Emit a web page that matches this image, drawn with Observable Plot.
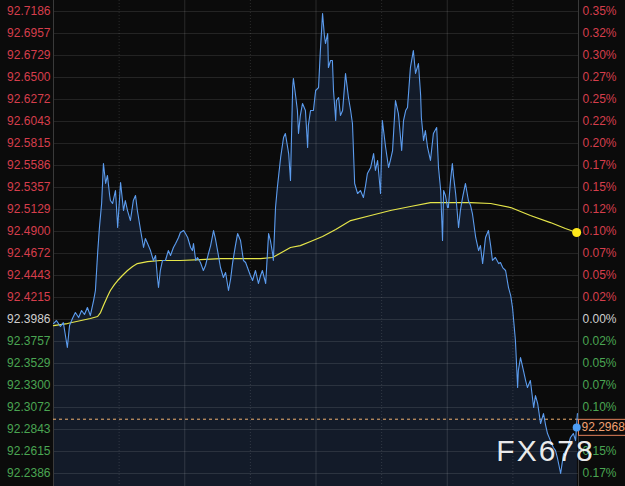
<!DOCTYPE html>
<html><head><meta charset="utf-8">
<script src="https://cdn.jsdelivr.net/npm/d3@7"></script>
<script src="https://cdn.jsdelivr.net/npm/@observablehq/plot@0.6"></script>
<style>html,body{margin:0;padding:0;background:#0b0b0b;overflow:hidden}</style>
</head><body><div id="chart"></div>
<script>
// intraday minutes (0 = session open) and price of the index
const times = [
  0,8,19,27,38,44,52,60,69,77,
  85,93,101,110,115,121,126,132,137,143,
  148,154,156,162,170,176,184,192,197,203,
  211,219,225,230,239,247,252,258,266,274,
  280,285,288,293,299,307,315,321,329,335,
  343,348,357,362,368,376,381,384,390,395,
  403,411,417,425,431,439,444,450,458,466,
  472,480,486,491,499,505,513,521,527,532,
  540,546,554,562,568,573,582,590,595,601,
  603,609,614,623,631,636,645,650,656,658,
  664,669,672,677,683,691,697,699,705,713,
  719,727,732,738,743,746,752,754,760,765,
  768,774,776,782,787,793,801,809,815,820,
  826,834,842,850,856,861,870,878,883,889,
  897,902,911,919,924,930,938,946,955,960,
  966,971,979,987,993,1001,1007,1009,1015,1020,
  1026,1034,1042,1051,1056,1062,1067,1070,1075,1081,
  1083,1089,1094,1097,1103,1111,1116,1122,1130,1138,
  1144,1149,1158,1166,1171,1177,1185,1193,1199,1204,
  1212,1221,1226,1232,1240,1248,1254,1259,1267,1273,
  1275,1281,1289,1295,1300,1308,1317,1322,1328,1336,
  1344,1350,1355,1363,1371,1377,1382,1391,1399,1404,
  1410,1418,1426,1432,1437
];
const prices = [
  92.3944,92.3975,92.3913,92.3954,92.3695,92.3923,92.3996,92.4058,92.4006,92.4079,
  92.4038,92.4110,92.4027,92.4183,92.4287,92.4671,92.4941,92.5191,92.5606,92.5399,
  92.5482,92.5274,92.5222,92.5191,92.5326,92.4941,92.5409,92.5118,92.5222,92.5118,
  92.5014,92.5222,92.5274,92.5118,92.4910,92.4734,92.4827,92.4775,92.4702,92.4599,
  92.4651,92.4422,92.4318,92.4495,92.4599,92.4599,92.4702,92.4651,92.4734,92.4775,
  92.4838,92.4890,92.4910,92.4879,92.4838,92.4734,92.4702,92.4775,92.4599,92.4630,
  92.4578,92.4495,92.4547,92.4671,92.4754,92.4910,92.4827,92.4702,92.4526,92.4422,
  92.4474,92.4287,92.4412,92.4567,92.4754,92.4879,92.4806,92.4599,92.4578,92.4526,
  92.4443,92.4391,92.4495,92.4360,92.4443,92.4495,92.4360,92.4879,92.4806,92.4671,
  92.4599,92.5149,92.5357,92.5669,92.5877,92.5918,92.5710,92.5430,92.6396,92.6490,
  92.6313,92.6157,92.5918,92.6105,92.6230,92.6157,92.5773,92.6001,92.6157,92.6157,
  92.6365,92.6396,92.6780,92.7165,92.6936,92.6853,92.6957,92.6604,92.6677,92.6677,
  92.6365,92.6053,92.6261,92.6292,92.6105,92.6157,92.6542,92.6292,92.6157,92.6022,
  92.5399,92.5295,92.5326,92.5253,92.5378,92.5503,92.5565,92.5710,92.5534,92.5638,
  92.5295,92.6053,92.5773,92.5565,92.5638,92.5741,92.6261,92.6126,92.5741,92.6053,
  92.6157,92.6188,92.6604,92.6780,92.6542,92.6645,92.6313,92.6084,92.5845,92.5949,
  92.5773,92.5638,92.5918,92.5980,92.5565,92.5326,92.4806,92.5326,92.5274,92.5149,
  92.5149,92.5430,92.5606,92.5482,92.5295,92.4941,92.5118,92.5253,92.5399,92.5222,
  92.5170,92.5087,92.4838,92.4702,92.4754,92.4567,92.4838,92.4910,92.4754,92.4599,
  92.4630,92.4567,92.4578,92.4526,92.4495,92.4318,92.4235,92.4110,92.3767,92.3279,
  92.3456,92.3591,92.3456,92.3352,92.3279,92.3352,92.3071,92.3196,92.3113,92.2905,
  92.3009,92.2884,92.2801,92.2728,92.2656,92.2624,92.2552,92.2386,92.2593,92.2573,
  92.2656,92.2760,92.2801,92.2728,92.3009
];
// average price line
const avgTimes = [0,38,101,121,129,137,148,156,167,176,189,203,217,230,258,293,348,403,458,513,568,601,650,677,705,738,774,815,870,924,979,1034,1075,1144,1199,1254,1308,1363,1404,1435];
const avgPrices = [92.3923,92.3944,92.3996,92.4017,92.4058,92.4131,92.4225,92.4287,92.4349,92.4391,92.4443,92.4495,92.4536,92.4567,92.4588,92.4599,92.4599,92.4609,92.4619,92.4619,92.4619,92.4630,92.4734,92.4754,92.4796,92.4848,92.4921,92.5014,92.5066,92.5118,92.5160,92.5201,92.5201,92.5201,92.5191,92.5149,92.5066,92.4993,92.4931,92.4890];
// axis ticks
const priceTicks = [92.7186,92.6957,92.6729,92.6500,92.6272,92.6043,92.5815,92.5586,92.5357,92.5129,92.4900,92.4672,92.4443,92.4215,92.3986,92.3757,92.3529,92.3300,92.3072,92.2843,92.2615,92.2386];
const pctLabels = ["0.35%","0.32%","0.30%","0.27%","0.25%","0.22%","0.20%","0.17%","0.15%","0.12%","0.10%","0.07%","0.05%","0.02%","0.00%","0.02%","0.05%","0.07%","0.10%","0.12%","0.15%","0.17%"];
const basePrice = 92.3986;
const lastPrice = 92.2950;
const lastLabel = "92.2968";
const lastDotPrice = 92.2864;
const lastDotTime = 1435;
const majorTimes = [360, 720, 1080];
const minorTimes = [180, 540, 900, 1260];
const watermark = "FX678";

const yMin = 92.2251, yMax = 92.7300;
const RED = "#d63e4c", GREEN = "#4aa552", GREY = "#cfcfcf";

const series = times.map((t, i) => ({t, p: prices[i]}));
const avg = avgTimes.map((t, i) => ({t, p: avgPrices[i]}));
const ticks = priceTicks.map((v, i) => ({v, pct: pctLabels[i], c: v > basePrice + 1e-6 ? RED : (v < basePrice - 1e-6 ? GREEN : GREY)}));
// the right-hand label hidden behind the last-price box in the reference
const rightTicks = ticks.filter(d => Math.abs(d.v - lastDotPrice) > 0.008);

const chart = Plot.plot({
  width: 625, height: 486,
  marginLeft: 53, marginRight: 47, marginTop: 0, marginBottom: 0,
  style: {background: "#0b0b0b", fontFamily: "'Liberation Sans', Arial, sans-serif", fontSize: "12px", overflow: "visible"},
  x: {domain: [0, 1440], axis: null},
  y: {domain: [yMin, yMax], axis: null},
  color: {type: "identity"},
  marks: [
    Plot.areaY(series, {x: "t", y1: yMin, y2: "p", fill: "#131b29"}),
    Plot.ruleY(priceTicks, {stroke: "#ffffff", strokeOpacity: 0.11}),
    Plot.ruleX(majorTimes, {stroke: "#ffffff", strokeOpacity: 0.13}),
    Plot.ruleX(minorTimes, {stroke: "#ffffff", strokeOpacity: 0.13, strokeDasharray: "1,2"}),
    Plot.ruleX([0, 1440], {stroke: "#3a3a3a"}),
    Plot.ruleY([lastPrice], {stroke: "#f0b070", strokeDasharray: "3,3"}),
    Plot.line(avg, {x: "t", y: "p", stroke: "#e6e64a", strokeWidth: 1.2}),
    Plot.line(series, {x: "t", y: "p", stroke: "#5c9cee", strokeWidth: 1.1}),
    Plot.dot([avg[avg.length - 1]], {x: "t", y: "p", r: 4.5, fill: "#ffe81a"}),
    Plot.text(ticks, {y: "v", text: d => d.v.toFixed(4), frameAnchor: "left", textAnchor: "end", dx: -3, fill: "c"}),
    Plot.text(rightTicks, {y: "v", text: "pct", frameAnchor: "right", textAnchor: "start", dx: 4, fill: "c"}),
    Plot.text([{p: lastDotPrice}], {y: "p", text: () => lastLabel, frameAnchor: "right", textAnchor: "start", dx: 3, fill: "#f0a070", fontSize: 12}),
    Plot.dot([{t: lastDotTime, p: lastDotPrice}], {x: "t", y: "p", r: 4, fill: "#4d9df5"}),
    Plot.text([watermark], {text: d => d, frameAnchor: "bottom-right", dx: -33, dy: -35, textAnchor: "middle", lineAnchor: "middle", fontSize: 30, fill: "#ffffff", fillOpacity: 0.92})
  ]
});
document.getElementById("chart").appendChild(chart);

// box around last price label, watermark spacing
const svg = d3.select(chart);
svg.selectAll("text").each(function() {
  const t = d3.select(this);
  if (t.text() === lastLabel) {
    const b = this.getBBox();
    d3.select(this.parentNode).insert("rect", () => this)
      .attr("transform", this.getAttribute("transform"))
      .attr("x", b.x - 3).attr("y", b.y - 1).attr("width", b.width + 12).attr("height", b.height + 2)
      .attr("fill", "#0b0b0b").attr("stroke", "#e0805a").attr("stroke-width", 1);
  }
  if (t.text() === watermark) t.style("letter-spacing", "2px");
});
</script></body></html>
